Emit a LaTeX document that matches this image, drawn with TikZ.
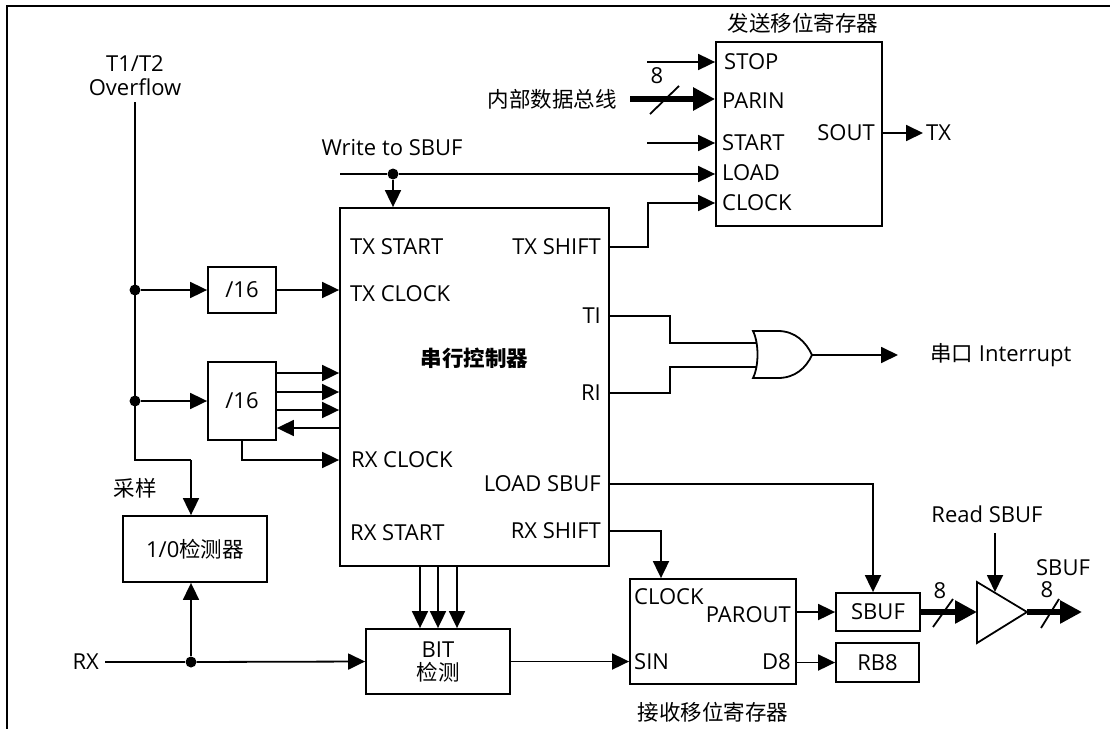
\documentclass[tikz,border=0pt]{standalone}
\usepackage{fontspec}
\setmainfont{Open Sans}
\newfontfamily\cjk{Noto Sans CJK SC}
\newcommand\zh[1]{{\cjk\fontsize{21.5}{25}\selectfont #1}}
\usetikzlibrary{arrows.meta}
\begin{document}
\begin{tikzpicture}[x=1pt,y=-1pt,
  every node/.style={font=\fontsize{22}{26}\selectfont},
  box/.style={draw, line width=1.8pt, inner sep=0pt},
  lab/.style={inner sep=0pt},
  wire/.style={line width=1.8pt},
  arr/.style={wire, -{Triangle[length=17pt,width=16pt]}},
  bus/.style={line width=5.5pt, -{Triangle[length=22pt,width=22pt]}},
  dotnode/.style={circle, fill, inner sep=0pt, minimum size=11pt}]
\useasboundingbox (0,0) rectangle (1110,728);
% frame
\draw[line width=1.8pt] (1110,6) -- (7,6) -- (7,732);

% ---------- main controller ----------
\node[box, minimum width=269pt, minimum height=358pt] (ctl) at (474.5,387) {};
\node (ctltitle) at (474.5,358) {{\cjk\bfseries\fontsize{21.5}{25}\selectfont 串行控制器}};
\node[lab, anchor=west] (lTXST) at (350,247) {TX START};
\node[lab, anchor=west] (lTXC) at (350,294) {TX CLOCK};
\node[lab, anchor=west] (lRXC) at (351,460) {RX CLOCK};
\node[lab, anchor=west] (lRXST) at (350,533) {RX START};
\node[lab, anchor=east] (lTXS) at (601,247) {TX SHIFT};
\node[lab, anchor=east] (lTI) at (601,316) {TI};
\node[lab, anchor=east] (lRI) at (601,393) {RI};
\node[lab, anchor=east] (lLSB) at (601,484) {LOAD SBUF};
\node[lab, anchor=east] (lRXS) at (601,531) {RX SHIFT};

% ---------- overflow source ----------
\node[align=center, anchor=south, inner sep=1pt] (ovf) at (135,97) {T1/T2\\[-2pt]Overflow};
\node[dotnode] (j1) at (135,290) {};
\node[dotnode] (j2) at (135,401) {};
\coordinate (j3) at (135,460);
\coordinate (j4) at (191,460);
\node[box, minimum width=68pt, minimum height=46pt] (d1) at (242,290) {/16};
\node[box, minimum width=68pt, minimum height=78pt] (d2) at (242,401) {/16};
\node[box, minimum width=144pt, minimum height=66pt] (det) at (195,549) {1/0\zh{检测器}};
\node[lab] (samp) at (135,488) {\zh{采样}};
\draw[wire] ([yshift=-5pt]ovf.south) -- (j3) -- (j4);
\draw[arr] (j4) -- (j4 |- det.north);
\draw[arr] (j1) -- (d1.west);
\draw[arr] (d1.east) -- (d1.east -| ctl.west);
\draw[arr] (j2) -- (d2.west);
\coordinate (p1) at ([yshift=28pt]d2.east);
\coordinate (p2) at ([yshift=9pt]d2.east);
\coordinate (p3) at ([yshift=-9pt]d2.east);
\coordinate (p4) at ([yshift=-27pt]d2.east);
\draw[arr] (p1) -- (p1 -| ctl.west);
\draw[arr] (p2) -- (p2 -| ctl.west);
\draw[arr] (p3) -- (p3 -| ctl.west);
\draw[arr] (p4 -| ctl.west) -- (p4);
\draw[arr] (d2.south) |- (ctl.west |- lRXC);

% ---------- RX input ----------
\node[lab, anchor=east] (rx) at (99,662) {RX};
\node[dotnode] (rxdot) at (191,662) {};
\node[box, minimum width=144pt, minimum height=65pt, align=center] (bit) at (438,661.5) {BIT\\[-3pt]\zh{检测}};
\draw[wire] ([xshift=6pt]rx.east) -- (rxdot);
\draw[arr] (rxdot) -- (bit.west);
\draw[arr] (rxdot) -- (rxdot |- det.south);
\coordinate (b1) at ([xshift=-18pt]bit.north);
\coordinate (b2) at (bit.north);
\coordinate (b3) at ([xshift=19pt]bit.north);
\draw[arr] (b1 |- ctl.south) -- (b1);
\draw[arr] (b2 |- ctl.south) -- (b2);
\draw[arr] (b3 |- ctl.south) -- (b3);

% ---------- Write to SBUF ----------
\node[lab] (wlab) at (392,148) {Write to SBUF};
\coordinate (wstart) at (340,174);
\node[dotnode] (wdot) at (393,174) {};

% ---------- TX shift register ----------
\node[box, minimum width=166pt, minimum height=184pt] (tx) at (799,134) {};
\node[lab] (txtitle) at (803,23) {\zh{发送移位寄存器}};
\node[lab, anchor=west] (lSTOP) at (724,62) {STOP};
\node[lab, anchor=west] (lPARIN) at (722,101) {PARIN};
\node[lab, anchor=west] (lSTART) at (722,143) {START};
\node[lab, anchor=west] (lLOAD) at (722,173) {LOAD};
\node[lab, anchor=west] (lCLK) at (722,203) {CLOCK};
\node[lab, anchor=east] (lSOUT) at (875,133) {SOUT};
\node[lab, anchor=west] (txo) at (926,133) {TX};
\coordinate (stopin) at (647,62);
\coordinate (startin) at (647,143);
\node[lab, anchor=east] (ibus) at (617,99) {\zh{内部数据总线}};
\node[lab] (n8a) at (657,76) {8};
\draw[wire] (wstart) -- (wdot);
\draw[arr] (wdot) -- (wdot -| tx.west);
\draw[arr] (wdot) -- (wdot |- ctl.north);
\draw[arr] (stopin) -- (stopin -| tx.west);
\draw[arr] (startin) -- (startin -| tx.west);
\draw[bus] ([xshift=13pt]ibus.east) -- (ibus.east -| tx.west);
\draw[wire] (650,114) -- (679,86);
\draw[arr] (ctl.east |- lTXS) -- ++(38,0) |- (tx.west |- lCLK);
\draw[arr] (tx.east |- lSOUT) -- ([xshift=-3pt]txo.west);

% ---------- OR gate ----------
\coordinate (ortop) at (753,331);
\coordinate (orbot) at (753,378);
\coordinate (orin1) at (757,343);
\coordinate (orin2) at (757,367);
\coordinate (orout) at (812,355);
\coordinate (orv) at (670,355);
\draw[wire] (ortop) .. controls (759,343) and (759,366) .. (orbot)
  -- (778,378) .. controls (795,378) and (806,368) .. (orout)
  .. controls (806,342) and (795,331) .. (778,331) -- cycle;
\draw[wire] (ctl.east |- lTI) -| (orv |- orin1) -- (orin1);
\draw[wire] (ctl.east |- lRI) -| (orv |- orin2) -- (orin2);
\coordinate (intend) at (898,355);
\draw[arr] (orout) -- (intend);
\node[lab, anchor=west] (intr) at (930,355) {\zh{串口} Interrupt};

% ---------- RX shift register ----------
\node[box, minimum width=166pt, minimum height=105pt] (rreg) at (713,631.5) {};
\node[lab, anchor=west] (lRCLK) at (634,597) {CLOCK};
\node[lab, anchor=east] (lPAR) at (791,615) {PAROUT};
\node[lab, anchor=west] (lSIN) at (634,662) {SIN};
\node[lab, anchor=east] (lD8) at (791,662) {D8};
\node[lab] (rtitle) at (713,712) {\zh{接收移位寄存器}};
\draw[arr] (bit.east) -- (rreg.west |- bit.east);
\draw[arr] (ctl.east |- lRXS) -| ([xshift=-52pt]rreg.north);

\node[box, minimum width=84pt, minimum height=38pt] (sbuf) at (878,612) {SBUF};
\node[box, minimum width=83pt, minimum height=39pt] (rb8) at (877.5,662.5) {RB8};
\draw[arr] (rreg.east |- sbuf.east) -- (sbuf.west);
\draw[arr] (rreg.east |- rb8.east) -- (rb8.west);
\draw[arr] (ctl.east |- lLSB) -| ([xshift=-5pt]sbuf.north);

% ---------- output buffer ----------
\coordinate (bufin) at (977,612);
\coordinate (bufout) at (1027,612);
\draw[wire, line join=miter] (977,582) -- (bufout) -- (977,643) -- cycle;
\draw[bus] (sbuf.east) -- (bufin);
\draw[wire] (933,627) -- (953,599);
\node[lab] (n8b) at (940,591) {8};
\node[lab] (rdlab) at (987,514) {Read SBUF};
\coordinate (rdtop) at (995,533);
\coordinate (rdbot) at (995,592);
\draw[arr] (rdtop) -- (rdbot);
\coordinate (outend) at (1082,612);
\draw[bus] (bufout) -- (outend);
\draw[wire] (1041,628) -- (1059,599);
\node[lab] (n8c) at (1047,590) {8};
\node[lab] (sbo) at (1063,568) {SBUF};
\end{tikzpicture}
\end{document}
